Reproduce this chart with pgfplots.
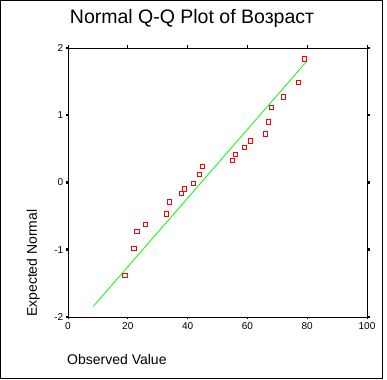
\documentclass[border=0pt]{standalone}
\usepackage{pgfplots}
\pgfplotsset{compat=1.18}
\usepackage{fontspec}
\setmainfont{Liberation Sans}
\definecolor{qgreen}{RGB}{0,255,0}
\definecolor{qred}{RGB}{255,0,0}
\begin{document}
\begin{tikzpicture}
\useasboundingbox (0pt,0pt) rectangle (387pt,379pt);
\fill[white] (0pt,0pt) rectangle (387pt,379pt);
\draw[line width=1pt] (0.7pt,0.7pt) rectangle (382.7pt,378.3pt);
\begin{axis}[
  at={(68pt,62pt)}, anchor=south west,
  scale only axis, width=299pt, height=269pt,
  xmin=0, xmax=100, ymin=-2, ymax=2,
  xtick={0,20,40,60,80,100}, ytick={-2,-1,0,1,2},
  axis line style={line width=0.8pt},
  tick align=outside,
  xtick style={line width=0.8pt, black},
  ytick style={line width=2.5pt, black},
  major tick length=2.5pt,
  /pgf/number format/assume math mode=true,
  tick label style={font=\fontsize{10}{12}\selectfont},
  xticklabel style={anchor=north, inner sep=0pt, yshift=-3pt},
  yticklabel style={anchor=east, inner sep=0pt, xshift=-2pt},
  title={Normal Q-Q Plot of Возраст},
  title style={font=\fontsize{19.5}{23}\selectfont, anchor=base, inner sep=0pt,
    at={([xshift=-25.5pt,yshift=18pt]axis description cs:0.5,1)}},
  xlabel={Observed Value},
  xlabel style={font=\fontsize{14}{16}\selectfont, anchor=north west, inner sep=0pt,
    at={([xshift=-1pt,yshift=-37pt]axis description cs:0,0)}},
  ylabel={Expected Normal},
  ylabel style={font=\fontsize{14}{16}\selectfont, anchor=south west, inner sep=0pt,
    at={([xshift=-28pt]axis description cs:0,0)}},
  clip=false,
]
\addplot[qgreen, line width=0.8pt, no marks] coordinates {(8.5,-1.84) (80,1.81)};
\addplot[only marks, mark=square, mark size=2.2pt, qred, mark options={line width=0.9pt}] coordinates {
(19,-1.385) (22,-0.978) (23,-0.725) (26,-0.62) (33,-0.47) (34,-0.29)
(38,-0.165) (39,-0.095) (42,-0.01) (44,0.12) (45,0.24) (55,0.33)
(56,0.42) (59,0.525) (61,0.615) (66,0.72) (67,0.90) (68,1.115)
(72,1.27) (77,1.49) (79,1.835)
};
\end{axis}
\end{tikzpicture}
\end{document}
